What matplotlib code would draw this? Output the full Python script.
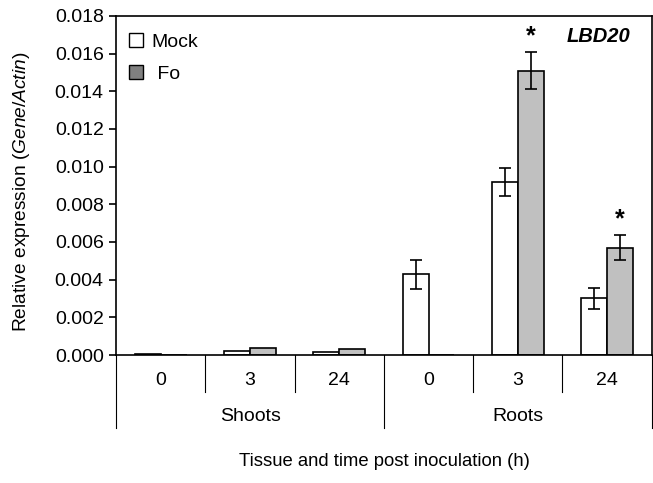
import numpy as np
import matplotlib.pyplot as plt
from matplotlib.lines import Line2D

plt.rcParams['font.family'] = 'Liberation Sans'
plt.rcParams['mathtext.fontset'] = 'custom'
plt.rcParams['mathtext.rm'] = 'Liberation Sans'
plt.rcParams['mathtext.it'] = 'Liberation Sans:italic'

# data
times = ['0', '3', '24', '0', '3', '24']
tissues = ['Shoots', 'Roots']
mock = [0.00004, 0.00020, 0.00016, 0.0043, 0.0092, 0.0030]
mock_err = [0, 0, 0, 0.00077, 0.00074, 0.00058]
fo = [0.0, 0.00037, 0.00032, 0.0, 0.0151, 0.0057]
fo_err = [0, 0, 0, 0, 0.0010, 0.00068]
signif = [False, False, False, False, True, True]

x = np.arange(len(times))
w = 0.29

fig = plt.figure(figsize=(6.53, 4.83), dpi=100)
ax = fig.add_axes([0.178, 0.265, 0.82, 0.702])

ax.bar(x - w/2, mock, w, color='white', edgecolor='black', linewidth=1.2)
ax.bar(x + w/2, fo, w, color='#c0c0c0', edgecolor='black', linewidth=1.2)
me = np.array(mock_err)
fe = np.array(fo_err)
ax.errorbar((x - w/2)[me > 0], np.array(mock)[me > 0], yerr=me[me > 0], fmt='none',
            ecolor='black', elinewidth=1.2, capsize=4, capthick=1.2)
ax.errorbar((x + w/2)[fe > 0], np.array(fo)[fe > 0], yerr=fe[fe > 0], fmt='none',
            ecolor='black', elinewidth=1.2, capsize=4, capthick=1.2)
for i in range(len(x)):
    if signif[i]:
        ax.text(x[i] + w/2, fo[i] + fo_err[i] + 0.0002, '*', ha='center', va='bottom',
                fontsize=18, fontweight='bold')

ax.set_xlim(-0.5, len(times) - 0.5)
ax.set_ylim(0, 0.018)
ax.set_yticks(np.arange(0, 0.0181, 0.002))
ax.set_yticklabels(['%.3f' % v for v in np.arange(0, 0.0181, 0.002)])
ax.tick_params(axis='y', labelsize=14, direction='out', length=5, width=1.2, pad=4)
ax.set_xticks([])
for s in ax.spines.values():
    s.set_linewidth(1.2)

# two level category axis
tr = ax.get_xaxis_transform()
for i, t in enumerate(times):
    ax.text(x[i], -0.075, t, transform=tr, ha='center', va='center', fontsize=14)
for b in [0.5, 1.5, 3.5, 4.5]:
    ax.plot([b, b], [0, -0.11], transform=tr, color='black', lw=0.8, clip_on=False)
for b in [-0.5, 2.5, 5.5]:
    ax.plot([b, b], [0, -0.215], transform=tr, color='black', lw=0.8, clip_on=False)
ax.text(1, -0.18, tissues[0], transform=tr, ha='center', va='center', fontsize=14)
ax.text(4, -0.18, tissues[1], transform=tr, ha='center', va='center', fontsize=14)

ax.text(0.5, -0.315, 'Tissue and time post inoculation (h)', transform=ax.transAxes,
        ha='center', va='center', fontsize=13.3)
ax.set_ylabel(r'Relative expression ($\mathit{Gene/Actin}$)', fontsize=13.8)
ax.yaxis.set_label_coords(-0.157, 0.48)

ax.text(0.9, 0.94, 'LBD20', transform=ax.transAxes, ha='center', va='center',
        fontsize=14.5, fontweight='bold', fontstyle='italic')

handles = [Line2D([], [], marker='s', ls='none', mfc='white', mec='black', ms=10.5, mew=1),
           Line2D([], [], marker='s', ls='none', mfc='#808080', mec='black', ms=10.5, mew=1)]
ax.legend(handles, ['Mock', ' Fo'], loc='upper left', frameon=False, fontsize=14,
          handlelength=0.8, handletextpad=0.4, labelspacing=0.75,
          bbox_to_anchor=(-0.01, 1.0))

plt.savefig('out.png', dpi=100)
